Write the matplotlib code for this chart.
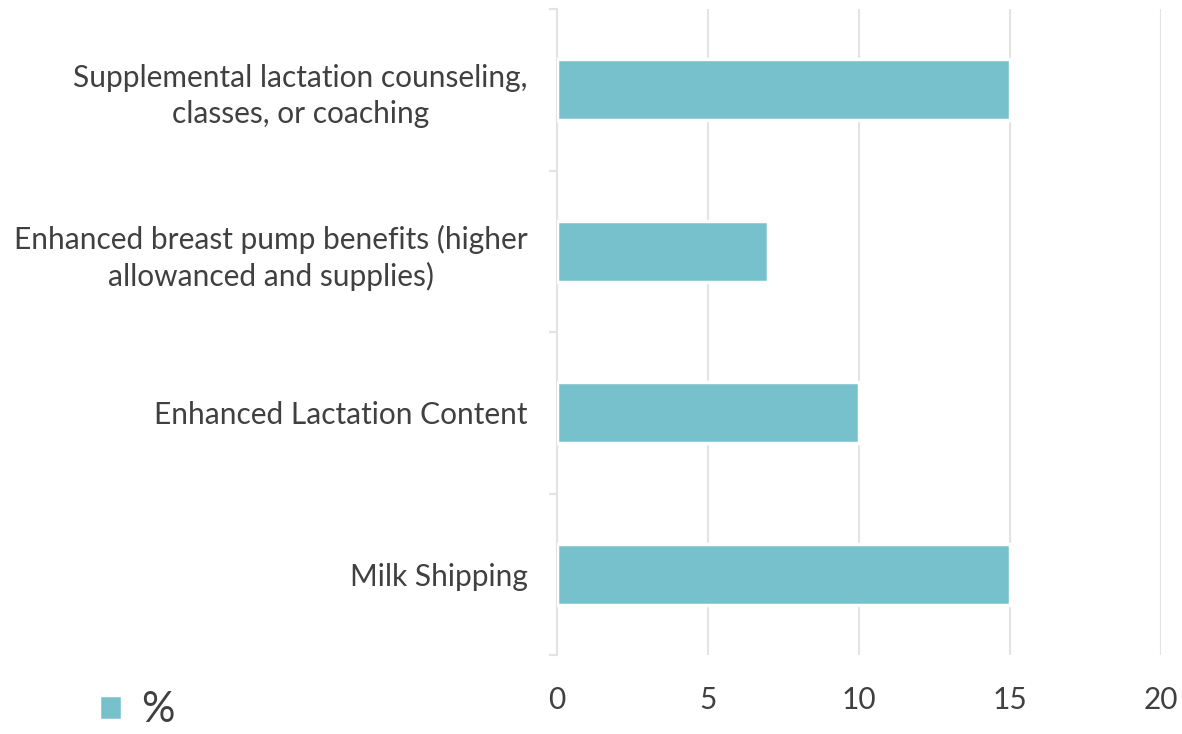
import numpy as np
import matplotlib.pyplot as plt

categories = ['Supplemental lactation counseling,\nclasses, or coaching',
              'Enhanced breast pump benefits (higher\nallowanced and supplies)',
              'Enhanced Lactation Content',
              'Milk Shipping']
values = [15, 7, 10, 15]
xticks = [0, 5, 10, 15, 20]

bar_color = '#77c1cc'
grid_color = '#e3e3e3'
text_color = '#404040'

plt.rcParams['font.family'] = ['Lato', 'DejaVu Sans']

fig = plt.figure(figsize=(11.82, 7.34), dpi=100)
ax = fig.add_axes([0.4712, 0.1076, 0.5110, 0.8801])

y = np.arange(len(categories))
ax.barh(y, values, height=0.375, color=bar_color, edgecolor='white',
        linewidth=2.5, zorder=3, label='%')

ax.set_ylim(len(categories) - 0.5, -0.5)
ax.set_xlim(0, 20)
ax.set_xticks(xticks)
ax.set_yticks(y)
ax.set_yticklabels(categories)
for lab in ax.get_yticklabels():
    lab.set_multialignment('center')
    lab.set_linespacing(1.35)

ax.set_yticks(np.arange(-0.5, len(categories), 1), minor=True)
ax.tick_params(axis='y', which='major', length=0, pad=21, labelsize=21.5,
               labelcolor=text_color)
ax.tick_params(axis='y', which='minor', length=6, width=1.5, color=grid_color)
ax.tick_params(axis='x', length=0, pad=22, labelsize=21.5, labelcolor=text_color)

ax.grid(axis='x', color=grid_color, linewidth=1.5, zorder=0)
for s in ['top', 'right', 'bottom']:
    ax.spines[s].set_visible(False)
ax.spines['left'].set_color(grid_color)
ax.spines['left'].set_linewidth(1.5)

leg = fig.legend(loc='lower left', bbox_to_anchor=(0.052, -0.044), frameon=False,
                 fontsize=30, handlelength=0.55, handleheight=0.55, handletextpad=0.45)
for t in leg.get_texts():
    t.set_color(text_color)

fig.savefig('out.png', dpi=100)
